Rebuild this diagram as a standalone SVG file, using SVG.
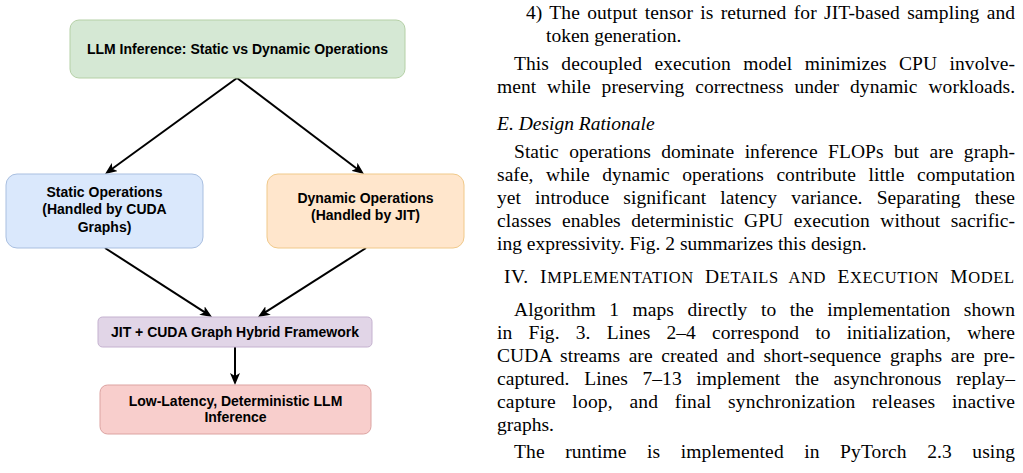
<svg xmlns="http://www.w3.org/2000/svg" width="1023" height="473" viewBox="0 0 1023 473">
<style>
.nt{font-family:"Liberation Sans",Arial,Helvetica,sans-serif;font-size:14px;font-weight:bold;fill:#000;text-anchor:middle}
.bx{stroke-width:1}
.body{font-family:"Liberation Serif","Times New Roman",serif;font-size:19.5px;fill:#000}
.it{font-style:italic}
.sm{font-size:16.5px}
.cn{fill:none;stroke:#000;stroke-width:2;marker-end:url(#ah)}
</style>
<defs>
<marker id="ah" markerUnits="userSpaceOnUse" markerWidth="12" markerHeight="10" refX="4" refY="5" orient="auto" viewBox="0 0 12 10">
<path d="M0,0 L12,5 L0,10 L3,5 z" fill="#000"/>
</marker>
</defs>
<rect width="1023" height="473" fill="#fff"/>
<g id="connectors">
<line class="cn" x1="237" y1="78" x2="111.5" y2="169.3"/>
<line class="cn" x1="237" y1="78" x2="357.6" y2="169.2"/>
<line class="cn" x1="105" y1="248" x2="205.3" y2="312.7"/>
<line class="cn" x1="366" y1="248" x2="264.7" y2="312.7"/>
<line class="cn" x1="235" y1="347" x2="235" y2="377"/>
</g>
<g id="node-top">
<rect class="bx" x="70" y="20" width="335" height="58" rx="9" fill="#d5e8d4" stroke="#b5d0a6"/>
<text class="nt" x="237.5" y="54">LLM Inference: Static vs Dynamic Operations</text>
</g>
<g id="node-static">
<rect class="bx" x="6" y="174" width="197" height="74" rx="11" fill="#dae8fc" stroke="#a9bfe0"/>
<text class="nt" x="104.5" y="197">Static Operations</text>
<text class="nt" x="104.5" y="214">(Handled by CUDA</text>
<text class="nt" x="104.5" y="232">Graphs)</text>
</g>
<g id="node-dynamic">
<rect class="bx" x="267" y="174" width="197" height="74" rx="11" fill="#ffe6cc" stroke="#f0c98a"/>
<text class="nt" x="365.5" y="203">Dynamic Operations</text>
<text class="nt" x="365.5" y="220">(Handled by JIT)</text>
</g>
<g id="node-hybrid">
<rect class="bx" x="98" y="317" width="274" height="30" rx="4.5" fill="#e1d5e7" stroke="#c4b1cf"/>
<text class="nt" x="235" y="337">JIT + CUDA Graph Hybrid Framework</text>
</g>
<g id="node-result">
<rect class="bx" x="100" y="385" width="271" height="49" rx="7.5" fill="#f8cecc" stroke="#dca3a1"/>
<text class="nt" x="235.5" y="406">Low-Latency, Deterministic LLM</text>
<text class="nt" x="235.5" y="422">Inference</text>
</g>
<g id="text-column" class="body">
<text x="526" y="19" word-spacing="2.3" textLength="489" lengthAdjust="spacing">4) The output tensor is returned for JIT-based sampling and</text>
<text x="546" y="42">token generation.</text>
<text x="514" y="70" word-spacing="7.5" textLength="501" lengthAdjust="spacing">This decoupled execution model minimizes CPU involve-</text>
<text x="497" y="93" word-spacing="6" textLength="518" lengthAdjust="spacing">ment while preserving correctness under dynamic workloads.</text>
<text class="it" x="497" y="130">E. Design Rationale</text>
<text x="514" y="158" word-spacing="5.5" textLength="501" lengthAdjust="spacing">Static operations dominate inference FLOPs but are graph-</text>
<text x="497" y="181" word-spacing="7.6" textLength="518" lengthAdjust="spacing">safe, while dynamic operations contribute little computation</text>
<text x="497" y="204" word-spacing="9.2" textLength="518" lengthAdjust="spacing">yet introduce significant latency variance. Separating these</text>
<text x="497" y="227" word-spacing="5.5" textLength="518" lengthAdjust="spacing">classes enables deterministic GPU execution without sacrific-</text>
<text x="497" y="250">ing expressivity. Fig. 2 summarizes this design.</text>
<text x="504" y="283" word-spacing="6" textLength="510" lengthAdjust="spacing">IV. I<tspan class="sm">MPLEMENTATION</tspan> D<tspan class="sm">ETAILS AND</tspan> E<tspan class="sm">XECUTION</tspan> M<tspan class="sm">ODEL</tspan></text>
<text x="514" y="316" word-spacing="8.6" textLength="501" lengthAdjust="spacing">Algorithm 1 maps directly to the implementation shown</text>
<text x="497" y="339" word-spacing="11.3" textLength="518" lengthAdjust="spacing">in Fig. 3. Lines 2–4 correspond to initialization, where</text>
<text x="497" y="362" word-spacing="3.6" textLength="518" lengthAdjust="spacing">CUDA streams are created and short-sequence graphs are pre-</text>
<text x="497" y="385" word-spacing="9.7" textLength="518" lengthAdjust="spacing">captured. Lines 7–13 implement the asynchronous replay–</text>
<text x="497" y="408" word-spacing="11.5" textLength="518" lengthAdjust="spacing">capture loop, and final synchronization releases inactive</text>
<text x="497" y="431">graphs.</text>
<text x="514" y="458" word-spacing="15.5" textLength="501" lengthAdjust="spacing">The runtime is implemented in PyTorch 2.3 using</text>
</g>
</svg>
